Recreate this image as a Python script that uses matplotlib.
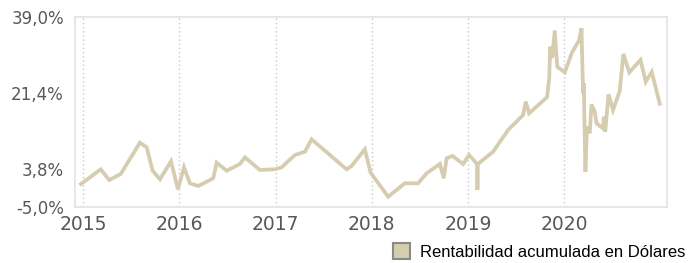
import matplotlib
matplotlib.use("Agg")
import matplotlib.pyplot as plt
from matplotlib.patches import Patch
from matplotlib.ticker import FuncFormatter

# datos (año decimal, rentabilidad %)
fechas = [2014.976, 2015.181, 2015.270, 2015.389, 2015.589, 2015.659, 2015.721, 2015.797,
          2015.912, 2015.984, 2016.047, 2016.109, 2016.195, 2016.351, 2016.387, 2016.491,
          2016.629, 2016.681, 2016.837, 2016.993, 2017.062, 2017.201, 2017.305, 2017.374,
          2017.738, 2017.790, 2017.928, 2017.988, 2018.171, 2018.344, 2018.482, 2018.570,
          2018.708, 2018.749, 2018.778, 2018.840, 2018.950, 2019.012, 2019.096, 2019.099,
          2019.103, 2019.262, 2019.418, 2019.574, 2019.602, 2019.636, 2019.823, 2019.846,
          2019.855, 2019.877, 2019.903, 2019.929, 2020.007, 2020.083, 2020.153, 2020.182,
          2020.187, 2020.198, 2020.205, 2020.222, 2020.239, 2020.267, 2020.285, 2020.319,
          2020.337, 2020.405, 2020.413, 2020.428, 2020.462, 2020.509, 2020.579, 2020.617,
          2020.678, 2020.795, 2020.849, 2020.912, 2020.995]
rentabilidad = [0.22, 3.64, 1.15, 2.55, 9.81, 8.75, 3.31, 1.32,
                5.50, -1.01, 4.10, 0.39, -0.24, 1.55, 5.17, 3.31,
                4.87, 6.42, 3.48, 3.64, 4.10, 6.96, 7.72, 10.60,
                3.64, 4.40, 8.28, 2.85, -2.72, 0.39, 0.39, 2.71,
                4.87, 1.55, 6.19, 6.73, 4.87, 6.96, 4.87, -1.17,
                4.87, 7.72, 12.76, 16.25, 19.33, 16.64, 20.36, 24.84,
                32.11, 29.48, 35.87, 27.46, 26.16, 30.81, 33.43, 36.38,
                30.57, 21.29, 23.61, 3.08, 13.53, 12.00, 18.68, 17.01,
                14.32, 13.16, 15.85, 12.37, 21.05, 17.41, 21.82, 30.41,
                26.16, 29.02, 23.98, 26.23, 18.87]

y_ticks = [-5.0, 3.8, 21.4, 39.0]
x_ticks = [2015, 2016, 2017, 2018, 2019, 2020]
serie = "Rentabilidad acumulada en Dólares"
color_linea = "#d6ccb0"

fig = plt.figure(figsize=(6.89, 2.63), dpi=100)
ax = fig.add_axes([0.1089, 0.2148, 0.8591, 0.7206])

ax.plot(fechas, rentabilidad, color=color_linea, linewidth=2.7, solid_joinstyle="miter")

ax.set_ylim(-5, 39)
ax.set_xlim(2014.914, 2021.07)
ax.set_yticks(y_ticks)
ax.set_xticks(x_ticks)
ax.yaxis.set_major_formatter(FuncFormatter(lambda v, p: f"{v:.1f}".replace(".", ",") + "%"))

ax.grid(axis="x", linestyle=(0, (1, 2)), color="#c8c8c8", linewidth=1)
ax.grid(axis="y", visible=False)
ax.tick_params(axis="both", length=0, colors="#585858")
ax.tick_params(axis="y", labelsize=12, pad=8)
ax.tick_params(axis="x", labelsize=13.5, pad=6)
for s in ax.spines.values():
    s.set_color("#e3e3e3")
    s.set_linewidth(1.2)

handles = [Patch(facecolor=color_linea, edgecolor="#8a8a8a", linewidth=1.5)]
fig.legend(handles, [serie], loc="lower right", bbox_to_anchor=(1.017, -0.045),
           frameon=False, handlelength=1.05, handleheight=1.05, handletextpad=0.6,
           prop={"family": "Liberation Sans", "size": 12})

fig.savefig("out.png", dpi=100)
